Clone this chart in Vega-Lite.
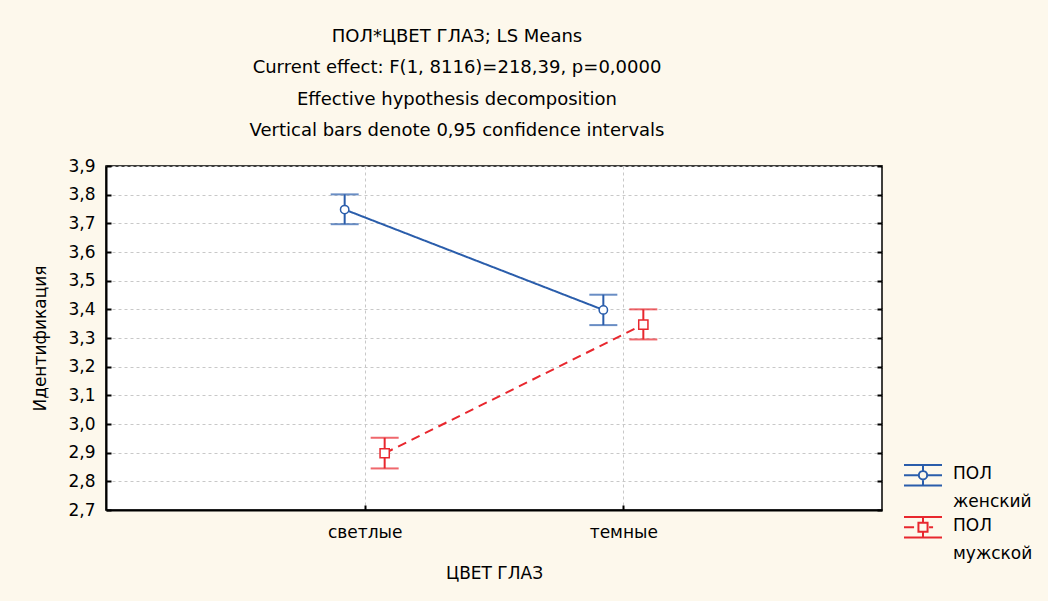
{
  "$schema": "https://vega.github.io/schema/vega-lite/v6.json",
  "width": 776,
  "height": 344,
  "autosize": {"type": "none"},
  "padding": {"left": 106, "top": 166, "right": 166, "bottom": 91},
  "background": "#FDF8EC",
  "config": {
    "font": "DejaVu Sans",
    "view": {"fill": "white", "stroke": "black", "strokeWidth": 1.5},
    "style": {"guide-label": {"lineHeight": 28}},
    "axis": {
      "labelFont": "DejaVu Sans", "titleFont": "DejaVu Sans",
      "labelFontSize": 17, "titleFontSize": 17, "titleFontWeight": "normal",
      "labelColor": "black", "titleColor": "black",
      "domainColor": "black", "domainWidth": 2,
      "tickColor": "black", "tickWidth": 2, "tickSize": -5,
      "gridColor": "#C8C8C8", "gridDash": [3, 3], "gridWidth": 1
    }
  },
  "title": {
    "text": ["ПОЛ*ЦВЕТ ГЛАЗ; LS Means", "Current effect: F(1, 8116)=218,39, p=0,0000", "Effective hypothesis decomposition", "Vertical bars denote 0,95 confidence intervals"],
    "fontSize": 18, "fontWeight": "normal", "color": "black", "font": "DejaVu Sans",
    "lineHeight": 31.5, "anchor": "middle", "dx": -37, "offset": 17
  },
  "data": {"values": [
    {"eyes": "светлые", "sex": "женский", "mean": 3.748, "lo": 3.697, "hi": 3.801},
    {"eyes": "темные", "sex": "женский", "mean": 3.398, "lo": 3.345, "hi": 3.451},
    {"eyes": "светлые", "sex": "мужской", "mean": 2.898, "lo": 2.845, "hi": 2.952},
    {"eyes": "темные", "sex": "мужской", "mean": 3.347, "lo": 3.295, "hi": 3.400}
  ]},
  "encoding": {
    "x": {
      "field": "eyes", "type": "nominal",
      "scale": {"type": "point", "padding": 1, "domain": ["светлые", "темные"]},
      "axis": {"title": "ЦВЕТ ГЛАЗ", "labelAngle": 0, "grid": true, "labelPadding": 19, "titlePadding": 25}
    },
    "xOffset": {
      "field": "sex", "type": "nominal",
      "scale": {"type": "point", "padding": 0, "domain": ["женский", "мужской"], "range": [-20, 20]}
    }
  },
  "resolve": {"axis": {"y": "independent"}},
  "layer": [
    {
      "mark": {"type": "point", "filled": false, "strokeWidth": 2, "opacity": 1, "size": 0},
      "encoding": {
        "y": {"field": "mean", "type": "quantitative", "scale": {"domain": [2.7, 3.9], "nice": false, "zero": false}, "axis": null},
        "color": {"field": "sex", "type": "nominal",
          "scale": {"domain": ["женский", "мужской"], "range": ["#2A5DAB", "#E8272E"]},
          "legend": {"title": null, "orient": "none", "legendX": 797, "legendY": 293, "padding": 0,
            "symbolSize": 1444, "symbolStrokeWidth": 2, "symbolFillColor": "white", "symbolOpacity": 1,
            "labelExpr": "['ПОЛ', datum.label]", "labelFontSize": 17, "labelBaseline": "alphabetic",
            "labelFont": "DejaVu Sans", "labelColor": "black", "labelOffset": 10, "labelLimit": 200, "rowPadding": 1}},
        "shape": {"field": "sex", "type": "nominal",
          "scale": {"domain": ["женский", "мужской"], "range": [
            "M-1,-0.74H1M-1,0.34H1M-1,-0.2H-0.22M0.22,-0.2H1M0,-0.74V-0.42M0,0.02V0.34M-0.22,-0.2A0.22,0.22,0,1,1,0.22,-0.2A0.22,0.22,0,1,1,-0.22,-0.2",
            "M-1,-0.74H1M-1,0.34H1M-1,-0.2H-0.47M0.32,-0.2H0.53M0,-0.74V-0.44M0,0.04V0.34M-0.24,-0.44H0.24V0.04H-0.24Z"
          ]}}
      }
    },
    {
      "mark": {"type": "line", "strokeWidth": 2},
      "encoding": {
        "y": {"field": "mean", "type": "quantitative",
          "axis": {"title": "Идентификация", "values": [2.7, 2.8, 2.9, 3.0, 3.1, 3.2, 3.3, 3.4, 3.5, 3.6, 3.7, 3.8, 3.9],
            "labelExpr": "replace(format(datum.value, '.1f'), '.', ',')", "grid": true, "labelPadding": 16, "titlePadding": 18}},
        "stroke": {"field": "sex", "type": "nominal", "scale": {"range": ["#2A5DAB", "#E8272E"]}, "legend": null},
        "strokeDash": {"field": "sex", "type": "nominal", "scale": {"range": [[1, 0], [9, 6]]}, "legend": null},
        "detail": {"field": "sex"}
      }
    },
    {
      "mark": {"type": "rule", "strokeWidth": 2},
      "encoding": {
        "y": {"field": "lo", "type": "quantitative",
          "axis": {"orient": "right", "title": null, "labels": false, "grid": false, "domain": false,
            "values": [2.7, 2.8, 2.9, 3.0, 3.1, 3.2, 3.3, 3.4, 3.5, 3.6, 3.7, 3.8, 3.9]}},
        "y2": {"field": "hi"},
        "stroke": {"field": "sex", "type": "nominal", "legend": null}
      }
    },
    {
      "mark": {"type": "tick", "size": 28, "thickness": 2},
      "encoding": {
        "y": {"field": "lo", "type": "quantitative", "axis": null},
        "fill": {"field": "sex", "type": "nominal", "scale": {"range": ["#2A5DAB", "#E8272E"]}, "legend": null}
      }
    },
    {
      "mark": {"type": "tick", "size": 28, "thickness": 2},
      "encoding": {
        "y": {"field": "hi", "type": "quantitative", "axis": null},
        "fill": {"field": "sex", "type": "nominal", "legend": null}
      }
    },
    {
      "transform": [{"filter": "datum.sex == 'женский'"}],
      "mark": {"type": "point", "shape": "circle", "fill": "white", "strokeWidth": 1.5, "size": 70, "opacity": 1},
      "encoding": {
        "y": {"field": "mean", "type": "quantitative", "axis": null},
        "stroke": {"field": "sex", "type": "nominal", "legend": null}
      }
    },
    {
      "transform": [{"filter": "datum.sex == 'мужской'"}],
      "mark": {"type": "point", "shape": "square", "fill": "white", "strokeWidth": 1.5, "size": 85, "opacity": 1},
      "encoding": {
        "y": {"field": "mean", "type": "quantitative", "axis": null},
        "stroke": {"field": "sex", "type": "nominal", "legend": null}
      }
    }
  ]
}
